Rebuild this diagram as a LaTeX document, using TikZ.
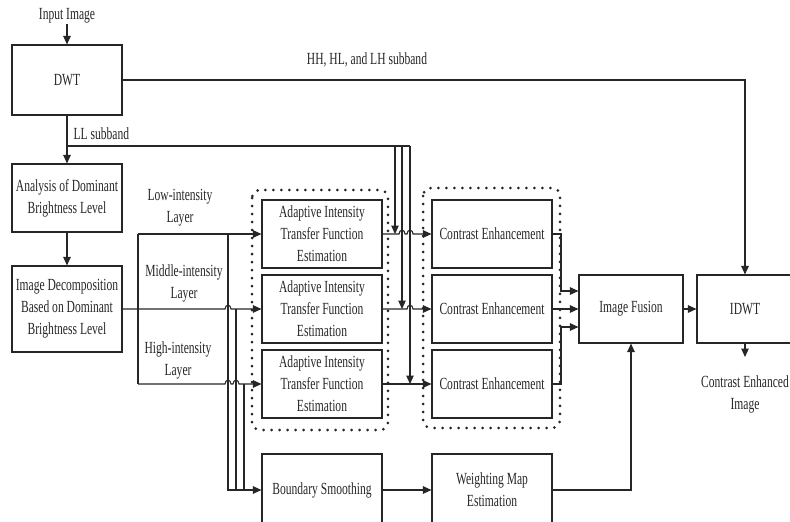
\documentclass[tikz,border=0pt]{standalone}
\usepackage{fontspec}
\setmainfont{Liberation Serif}[FakeStretch=0.68]
\usetikzlibrary{arrows.meta}

\begin{document}
\begin{tikzpicture}[x=1pt, y=-1pt, line width=1.1pt, color=black!85,
    >={Triangle[length=8.5pt,width=7.5pt]},
    every node/.style={font=\fontsize{17}{22}\selectfont},
    block/.style={draw, align=center, inner sep=0pt, minimum width=120pt, minimum height=68pt},
    lbl/.style={align=center, inner sep=0pt},
    dotframe/.style={line width=3pt, line cap=round, dash pattern=on 0pt off 8pt, rounded corners=8pt}]
    \useasboundingbox (0,0) rectangle (790,522);

    \node[lbl] (inp) at (67,16) {Input Image};
    \node[block, minimum width=110pt, minimum height=70pt] (dwt) at (67,80) {DWT};
    \node[block, minimum width=110pt] (ana) at (67,198) {Analysis of Dominant\\Brightness Level};
    \node[block, minimum width=110pt, minimum height=86pt] (dec) at (67,309) {Image Decomposition\\Based on Dominant\\Brightness Level};

    \node[lbl] (hhlbl) at (367,60) {HH, HL, and LH subband};
    \node[lbl, anchor=west] (lllbl) at (73,134) {LL subband};
    \node[lbl] (lowlbl) at (180,208) {Low-intensity\\Layer};
    \node[lbl] (midlbl) at (184,283) {Middle-intensity\\Layer};
    \node[lbl] (highlbl) at (178,360) {High-intensity\\Layer};

    \node[block] (aitf1) at (322,234) {Adaptive Intensity\\Transfer Function\\Estimation};
    \node[block] (aitf2) at (322,309) {Adaptive Intensity\\Transfer Function\\Estimation};
    \node[block] (aitf3) at (322,384) {Adaptive Intensity\\Transfer Function\\Estimation};
    \node[block] (ce1) at (492,234) {Contrast Enhancement};
    \node[block] (ce2) at (492,309) {Contrast Enhancement};
    \node[block] (ce3) at (492,384) {Contrast Enhancement};

    \node[block, minimum width=104pt] (fus) at (631,309) {Image Fusion};
    \node[block, minimum width=96pt] (idwt) at (745,309) {IDWT};
    \node[lbl] (outlbl) at (745,394) {Contrast Enhanced\\Image};

    \node[block, minimum height=72pt] (bs) at (322,490) {Boundary Smoothing};
    \node[block, minimum height=72pt] (wm) at (492,490) {Weighting Map\\Estimation};

    \coordinate (llsplit) at (67,146);
    \coordinate (tapA) at (395,146);
    \coordinate (tapB) at (402,146);
    \coordinate (tapC) at (410,146);
    \coordinate (lowst) at (138,234);
    \coordinate (highst) at (138,384);
    \coordinate (lowdn) at (228,234);
    \coordinate (middn) at (236,309);
    \coordinate (highdn) at (244,384);
    \coordinate (fin1) at (561,291);
    \coordinate (fin3) at (561,327);
    \coordinate (outtip) at (745,357);

    % input and wavelet split
    \draw[->] (inp.south) -- (inp.south |- dwt.north);
    \draw[->] (dwt.east) -| (idwt.north);
    \draw[->] (dwt) -- (ana);
    \draw (llsplit) -- (tapC);
    \draw[->] (tapA) -- (tapA |- aitf1.east);
    \draw[->] (tapB) -- (tapB |- aitf2.east);
    \draw[->] (tapC) -- (tapC |- aitf3.east);
    \draw[->] (ana) -- (dec);

    % layers
    \draw (lowst) -- (highst);
    \draw[->] (lowst) -- (aitf1.west);
    \draw[->] (dec.east) -- (225,309) .. controls (225,304) and (231,304) .. (231,309) -- (aitf2.west);
    \draw[->] (highst) -- (225,384) .. controls (225,379) and (231,379) .. (231,384) -- (233,384) .. controls (233,379) and (239,379) .. (239,384) -- (aitf3.west);
    \draw[->] (lowdn) |- (bs.west);
    \draw (middn) -- (middn |- bs.west);
    \draw (highdn) -- (highdn |- bs.west);

    \draw[->] (aitf1.east) -- (399,234) .. controls (399,229) and (405,229) .. (405,234) -- (407,234) .. controls (407,229) and (413,229) .. (413,234) -- (ce1.west);
    \draw[->] (aitf2.east) -- (407,309) .. controls (407,304) and (413,304) .. (413,309) -- (ce2.west);
    \draw[->] (aitf3.east) -- (ce3.west);

    % fusion
    \draw[->] (ce1.east) -| (fin1) -- (fin1 -| fus.west);
    \draw[->] (ce2.east) -- (fus.west);
    \draw[->] (ce3.east) -| (fin3) -- (fin3 -| fus.west);
    \draw[->] (fus) -- (idwt);
    \draw[->] (idwt.south) -- (outtip);
    \draw[->] (bs) -- (wm);
    \draw[->] (wm.east) -| (fus.south);

    \draw[dotframe] (252,190) rectangle (388,430);
    \draw[dotframe] (423,188) rectangle (560,428);
\end{tikzpicture}
\end{document}
